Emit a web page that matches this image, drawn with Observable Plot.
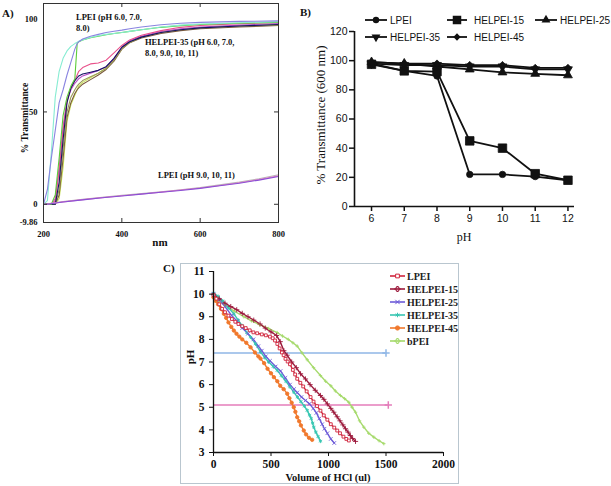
<!DOCTYPE html>
<html><head><meta charset="utf-8">
<script src="https://cdn.jsdelivr.net/npm/d3@7"></script>
<script src="https://cdn.jsdelivr.net/npm/@observablehq/plot@0.6"></script>
<style>
body{margin:0;background:#fff;width:611px;height:486px;position:relative;overflow:hidden;font-family:"Liberation Serif",serif;color:#111}
.abs{position:absolute}
.t{position:absolute;white-space:nowrap;line-height:1}
.ann{position:absolute;white-space:nowrap;font:bold 8.5px "Liberation Serif",serif;line-height:11px;color:#111}
</style></head><body>
<div id="A" class="abs" style="left:0;top:0"></div>
<div id="B" class="abs" style="left:300px;top:0"></div>
<div id="Cbox" class="abs" style="left:180px;top:263px;width:277px;height:219px;border:1px solid #b9c6cf"><div id="C"></div></div>
<svg id="legB" class="abs" style="left:0;top:0" width="611" height="60"></svg>
<svg id="legC" class="abs" style="left:380px;top:265px" width="100" height="90"></svg>

<div class="t" style="left:2px;top:7px;font:bold 11px 'Liberation Serif',serif">A)</div>
<div class="t" style="left:300px;top:6px;font:bold 11px 'Liberation Serif',serif">B)</div>
<div class="t" style="left:163px;top:262px;font:bold 11px 'Liberation Serif',serif">C)</div>

<div class="t" style="left:25px;top:118px;transform:translate(-50%,-50%) rotate(-90deg);font:bold 9.5px 'Liberation Serif',serif">% Transmittance</div>
<div class="t" style="left:160px;top:242px;transform:translate(-50%,-50%);font:bold 11px 'Liberation Serif',serif">nm</div>
<div class="ann" style="left:76px;top:12px">LPEI (pH 6.0, 7.0,<br>8.0)</div>
<div class="ann" style="left:145px;top:37px">HELPEI-35 (pH 6.0, 7.0,<br>8.0, 9.0, 10, 11)</div>
<div class="ann" style="left:158px;top:170px">LPEI (pH 9.0, 10, 11)</div>

<div class="t" style="left:321px;top:115px;transform:translate(-50%,-50%) rotate(-90deg);font:13px 'Liberation Serif',serif">% Transmittance (600 nm)</div>
<div class="t" style="left:464px;top:237px;transform:translate(-50%,-50%);font:12px 'Liberation Serif',serif">pH</div>

<div class="t" style="left:190px;top:357px;transform:translate(-50%,-50%) rotate(-90deg);font:bold 11px 'Liberation Serif',serif">pH</div>
<div class="t" style="left:328px;top:477px;transform:translate(-50%,-50%);font:bold 10.5px 'Liberation Serif',serif">Volume of HCl (ul)</div>

<script>
// ================= Panel A: UV-vis transmittance =================
const waveA = [200,210,220,230,240,250,260,270,280,286,290,300,320,340,360,380,400,420,450,500,550,600,700,800];
const lpeiCyan   = [0,2,28,58,72,79,83,85.5,87,87.8,88.3,89,90.3,91.2,92,92.5,93,93.6,94.5,96,97,97.6,98.3,98.8];
const lpeiPurple = [0,8,25,40,55,62,70,77,84,87,88,89.5,91,92,93,93.7,94.3,95,96,97.2,98,98.5,99,99.3];
const lpeiGreen  = [0,0,0,5,25,48,58,64,68,87,88,89,90.2,91,91.8,92.5,93,93.6,94.5,95.8,96.7,97.3,98,98.5];
const helNavy    = [0,0,0,0,12,35,55,63,67,68.5,69.5,70.5,71.5,72.5,74.5,79,85,88,90.5,93,94.5,95.5,96.5,97.3];
const helPink    = [0,0,0,2,18,40,56,63,67,70,72,74,76,76.5,78,82,86,89,91.5,94,95.8,96.8,97.8,98.5];
const helMagenta = [0,0,0,3,20,42,56,62,65.5,67,68,69.5,71,72.5,74.5,79,85,88.5,91,93.5,95,96,97,97.8];
const helOlive   = [0,0,0,0,8,30,50,58,62,64,65,67,69,71,73.5,78,84,87.5,90.5,93,94.5,95.5,96.5,97];
const helBrown   = [0,0,0,0,5,25,47,55,60,62,63,65,67.5,70,73,77.5,84,87.5,90,92.5,94,95,96,96.8];
const helYellow  = [0,0,0,0,3,20,45,54,59,62,64,66,68.5,71,74,78.5,84.5,88,90.5,93,94.5,95.5,96.5,97.2];
const waveLow = [200,210,218,250,300,350,400,450,500,550,600,650,700,750,800];
const lowGray   = [0,0,0.5,1.5,2.7,3.8,4.8,5.8,6.8,7.9,9.1,10.5,12,13.8,16];
const lowPurple = [0,0,0.3,1.2,2.4,3.5,4.5,5.5,6.5,7.5,8.6,10,11.4,13.1,15];
const lowPink   = [0,0,0.4,1.3,2.5,3.6,4.6,5.6,6.6,7.7,8.8,10.2,11.7,13.4,15.4];
const xTicksA = [200,400,600,800];
const yTicksA = [100,50,0,-9.86];
const innerXA = [400,600];
const innerYA = [50,0];

const seriesA = [
  {k:"yellow", c:"#c9e45a", w:waveA, v:helYellow},
  {k:"brown", c:"#7a5a3c", w:waveA, v:helBrown},
  {k:"olive", c:"#9a9a55", w:waveA, v:helOlive},
  {k:"magenta", c:"#b84cc8", w:waveA, v:helMagenta},
  {k:"pink", c:"#e8508a", w:waveA, v:helPink},
  {k:"navy", c:"#141464", w:waveA, v:helNavy},
  {k:"green", c:"#5ccc3a", w:waveA, v:lpeiGreen},
  {k:"cyan", c:"#86ecd2", w:waveA, v:lpeiCyan},
  {k:"purple", c:"#8a84e0", w:waveA, v:lpeiPurple},
  {k:"lowgray", c:"#b8b8b8", w:waveLow, v:lowGray},
  {k:"lowpink", c:"#e07cc4", w:waveLow, v:lowPink},
  {k:"lowpurple", c:"#8a50d4", w:waveLow, v:lowPurple}
];
const dataA = seriesA.flatMap(s => s.w.map((w,i) => ({wl:w, t:s.v[i], k:s.k, c:s.c})));

const plotA = Plot.plot({
  width:290, height:250, marginLeft:43, marginRight:12, marginTop:3, marginBottom:28,
  x:{domain:[200,800]}, y:{domain:[-9.86,108.7]}, color:{type:"identity"},
  style:{fontFamily:"Liberation Serif", fontSize:"8.5px", fontWeight:"bold", color:"#111", background:"transparent"},
  marks:[
    Plot.line(dataA, {x:"wl", y:"t", z:"k", stroke:"c", strokeWidth:1.1}),
    Plot.frame({stroke:"#333", strokeWidth:1}),
    Plot.axisX({ticks:xTicksA, tickSize:0, tickPadding:8, label:null, tickFormat:d=>String(d)}),
    Plot.axisY({ticks:yTicksA, tickSize:0, tickPadding:6, label:null, tickFormat:d=>String(d)}),
    Plot.tickX(innerXA, {x:d=>d, insetTop:215, stroke:"#333"}),
    Plot.tickX(innerXA, {x:d=>d, insetBottom:215, stroke:"#333"}),
    Plot.tickY(innerYA, {y:d=>d, insetRight:231, stroke:"#333"}),
    Plot.tickY(innerYA, {y:d=>d, insetLeft:231, stroke:"#333"})
  ]
});
document.getElementById("A").appendChild(plotA);

// ================= Panel B: transmittance at 600 nm vs pH =================
const phB = [6,7,8,9,10,11,12];
const lpeiB     = [98,93,89.5,22,22,20.5,18];
const helpei15B = [97.5,93,92.5,45,40,22.5,18];
const helpei25B = [99,98,96,94,92,91,90];
const helpei35B = [98,97,97,96,96,94,94];
const helpei45B = [99,98,98,97,97,95,95];
const yTicksB = [0,20,40,60,80,100,120];
const xDomB = [5.48,12.2];
const seriesB = [
  {k:"LPEI", v:lpeiB, sym:"circle", r:3.2, rot:0},
  {k:"HELPEI-15", v:helpei15B, sym:"square", r:4.8, rot:0},
  {k:"HELPEI-25", v:helpei25B, sym:"triangle", r:3.3, rot:0},
  {k:"HELPEI-35", v:helpei35B, sym:"triangle", r:3.3, rot:180},
  {k:"HELPEI-45", v:helpei45B, sym:"diamond2", r:3.3, rot:0}
];
const dataB = seriesB.flatMap(s => phB.map((p,i) => ({ph:p, t:s.v[i], k:s.k})));

const plotB = Plot.plot({
  width:311, height:250, marginLeft:54, marginRight:37, marginTop:31, marginBottom:44,
  x:{domain:xDomB}, y:{domain:[0,120]},
  style:{fontFamily:"Liberation Sans", fontSize:"10.5px", color:"#111", background:"transparent"},
  marks:[
    Plot.axisX({ticks:phB, tickSize:5, tickPadding:3, label:null, strokeWidth:1.5, tickFormat:d=>String(d)}),
    Plot.axisY({ticks:yTicksB, tickSize:5, tickPadding:2, label:null, strokeWidth:1.5, tickFormat:d=>String(d)}),
    Plot.ruleY([0], {strokeWidth:1.6}),
    Plot.ruleX([xDomB[0]], {y1:0, y2:120, strokeWidth:1.6}),
    Plot.line(dataB, {x:"ph", y:"t", z:"k", stroke:"#111", strokeWidth:1.8}),
    ...seriesB.map(s => Plot.dot(dataB.filter(d => d.k === s.k), {x:"ph", y:"t", symbol:s.sym, r:s.r, rotate:s.rot, fill:"#111", stroke:"#111", strokeWidth:0.8}))
  ]
});
document.getElementById("B").appendChild(plotB);

// legend B
const legBItems = [
  {k:"LPEI", x:365, y:20}, {k:"HELPEI-15", x:447, y:20}, {k:"HELPEI-25", x:535, y:20},
  {k:"HELPEI-35", x:365, y:37}, {k:"HELPEI-45", x:447, y:37}
];
const symMap = {circle:d3.symbolCircle, square:d3.symbolSquare, triangle:d3.symbolTriangle, diamond2:d3.symbolDiamond2};
const gB = d3.select("#legB");
legBItems.forEach(it => {
  const s = seriesB.find(d => d.k === it.k);
  const len = it.x === 447 ? 20 : 22;
  gB.append("line").attr("x1", it.x).attr("x2", it.x+len).attr("y1", it.y).attr("y2", it.y).attr("stroke","#111").attr("stroke-width",1.8);
  gB.append("path").attr("d", d3.symbol(symMap[s.sym], Math.PI*s.r*s.r)())
    .attr("transform", `translate(${it.x+len/2},${it.y}) rotate(${s.rot})`).attr("fill","#111");
  gB.append("text").attr("x", it.x + len + (it.x === 447 ? 7 : 3)).attr("y", it.y+4)
    .attr("font-family","Liberation Sans").attr("font-size","10px").attr("fill","#111").text(it.k);
});

// ================= Panel C: titration curves =================
const lpeiC = [[0,9.96],[25,9.8],[50,9.55],[75,9.35],[100,9.2],[130,9.05],[160,8.9],[190,8.78],[217,8.68],[250,8.58],[280,8.5],[315,8.4],[347,8.31],[380,8.27],[420,8.22],[455,8.18],[491,8.12],[515,8.05],[535,7.95],[555,7.8],[575,7.6],[595,7.42],[610,7.3],[626,7.14],[645,7.02],[665,6.9],[690,6.65],[710,6.45],[728,6.26],[755,6.08],[780,5.92],[810,5.7],[844,5.45],[870,5.25],[900,5.05],[930,4.85],[959,4.64],[990,4.45],[1020,4.25],[1050,4.1],[1076,3.97],[1100,3.85],[1130,3.7],[1155,3.6],[1177,3.53]];
const helpei15C = [[0,10.0],[50,9.8],[100,9.6],[150,9.45],[202,9.31],[250,9.15],[300,9.0],[350,8.85],[405,8.68],[450,8.5],[500,8.33],[549,8.17],[580,7.9],[612,7.5],[640,7.3],[680,7.0],[720,6.75],[757,6.48],[800,6.25],[840,6.0],[885,5.75],[930,5.52],[960,5.35],[990,5.15],[1020,4.95],[1046,4.78],[1075,4.58],[1100,4.4],[1125,4.22],[1148,4.05],[1170,3.9],[1190,3.75],[1210,3.62],[1235,3.49]];
const helpei25C = [[0,10.0],[50,9.75],[100,9.45],[159,9.05],[206,8.8],[250,8.5],[300,8.25],[347,8.0],[390,7.7],[420,7.5],[455,7.25],[491,7.05],[540,6.8],[583,6.6],[625,6.3],[665,6.0],[700,5.8],[728,5.65],[765,5.45],[800,5.3],[835,5.15],[867,4.95],[895,4.75],[920,4.5],[945,4.25],[965,4.05],[990,3.85],[1020,3.6],[1050,3.42]];
const helpei35C = [[0,10.05],[40,9.9],[80,9.7],[130,9.4],[177,9.13],[215,8.85],[250,8.6],[290,8.3],[322,8.1],[365,7.8],[409,7.45],[445,7.2],[480,7.0],[520,6.8],[554,6.63],[590,6.4],[630,6.15],[665,5.9],[698,5.67],[730,5.45],[760,5.25],[790,5.05],[815,4.86],[835,4.65],[850,4.5],[862,4.3],[872,4.12],[890,3.9],[910,3.7],[930,3.5]];
const helpei45C = [[0,9.86],[20,9.7],[40,9.55],[65,9.35],[90,9.13],[110,8.95],[130,8.75],[155,8.55],[177,8.39],[200,8.25],[225,8.12],[250,8.0],[285,7.85],[322,7.65],[360,7.42],[390,7.25],[409,7.15],[440,6.95],[470,6.7],[500,6.5],[525,6.33],[555,6.15],[580,5.95],[610,5.8],[641,5.6],[660,5.4],[680,5.2],[698,5.0],[712,4.8],[728,4.56],[745,4.38],[760,4.2],[785,3.97],[805,3.8],[830,3.65],[858,3.56]];
const bpeiC = [[0,9.94],[50,9.7],[100,9.5],[180,9.25],[264,9.0],[330,8.82],[400,8.65],[480,8.48],[554,8.3],[600,8.15],[650,8.0],[690,7.85],[728,7.7],[770,7.4],[815,7.1],[870,6.75],[930,6.4],[975,6.15],[1020,5.95],[1060,5.72],[1104,5.52],[1140,5.38],[1177,5.22],[1205,5.0],[1235,4.78],[1270,4.4],[1307,4.12],[1350,3.85],[1394,3.68],[1440,3.52],[1481,3.39]];
const refPH = [{ph:7.4, end:1500, c:"#8fb6e6"},{ph:5.1, end:1520, c:"#e47cba"}];
const xTicksC = [0,500,1000,1500,2000];
const yTicksC = [3,4,5,6,7,8,9,10,11];

const seriesC = [
  {k:"LPEI", d:lpeiC, c:"#d0243c", sym:"square", r:1.6, fill:"white"},
  {k:"HELPEI-15", d:helpei15C, c:"#9c1a3c", sym:"plus", r:1.8, fill:"none"},
  {k:"HELPEI-25", d:helpei25C, c:"#6d5bd8", sym:"times", r:1.8, fill:"none"},
  {k:"HELPEI-35", d:helpei35C, c:"#38c6b2", sym:"asterisk", r:1.8, fill:"none"},
  {k:"HELPEI-45", d:helpei45C, c:"#f0782c", sym:"circle", r:1.7, fill:"#f0782c"},
  {k:"bPEI", d:bpeiC, c:"#a6da6c", sym:"plus", r:1.2, fill:"none"}
];

const plotC = Plot.plot({
  width:277, height:219, marginLeft:32, marginRight:15, marginTop:7, marginBottom:31,
  x:{domain:[0,2000]}, y:{domain:[3,11]}, color:{type:"identity"},
  style:{fontFamily:"Liberation Serif", fontSize:"11.5px", fontWeight:"bold", color:"#111", background:"transparent"},
  marks:[
    Plot.ruleY(refPH, {y:"ph", x1:0, x2:"end", stroke:"c", strokeWidth:1.5}),
    Plot.dot(refPH, {x:"end", y:"ph", symbol:"plus", r:2.5, stroke:"c"}),
    ...seriesC.slice().reverse().map(s => Plot.line(s.d, {x:d=>d[0], y:d=>d[1], stroke:s.c, strokeWidth:1.4})),
    ...seriesC.slice().reverse().map(s => Plot.dot(s.d, {x:d=>d[0], y:d=>d[1], symbol:s.sym, r:s.r, stroke:s.c, fill:s.fill, strokeWidth:0.9})),
    Plot.ruleX([0], {y1:3, y2:11, strokeWidth:1.3}),
    Plot.ruleY([3], {x1:0, x2:2000, strokeWidth:1.3}),
    Plot.axisX({ticks:xTicksC, tickSize:4, tickPadding:3, label:null, tickFormat:d=>String(d)}),
    Plot.axisY({ticks:yTicksC, tickSize:4, tickPadding:5, label:null, tickFormat:d=>String(d)})
  ]
});
document.getElementById("C").appendChild(plotC);

// legend C
const gC = d3.select("#legC");
const symC = {square:d3.symbolSquare, plus:d3.symbolCross, times:d3.symbolTimes, asterisk:d3.symbolAsterisk, circle:d3.symbolCircle};
seriesC.forEach((s,i) => {
  const y = 11 + 13*i;
  gC.append("line").attr("x1",10).attr("x2",25).attr("y1",y).attr("y2",y).attr("stroke",s.c).attr("stroke-width",1.6);
  gC.append("path").attr("d", d3.symbol(symC[s.sym], 14)()).attr("transform",`translate(17.5,${y})`)
    .attr("fill", s.fill).attr("stroke", s.c).attr("stroke-width",1);
  gC.append("text").attr("x",27).attr("y",y+3.5).attr("font-family","Liberation Serif").attr("font-weight","bold")
    .attr("font-size","10px").attr("fill","#222").text(s.k);
});
</script>
</body></html>
